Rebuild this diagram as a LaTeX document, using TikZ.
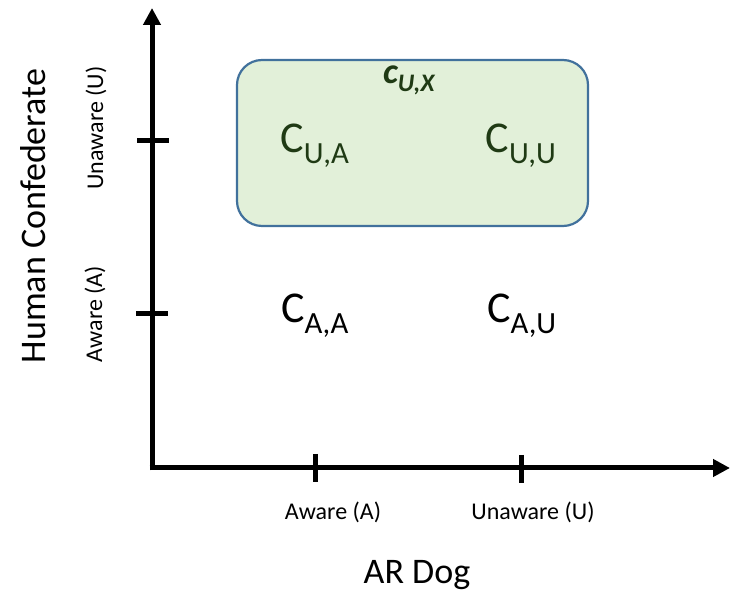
\documentclass[tikz,border=0pt]{standalone}
\usepackage{fontspec}
\setmainfont{Carlito}
\usetikzlibrary{arrows.meta}
\definecolor{boxfill}{HTML}{E2F0D9}
\definecolor{boxline}{HTML}{41719C}
\definecolor{darkgreen}{HTML}{1F3A14}
\begin{document}
\begin{tikzpicture}[x=1pt,y=-1pt,
  axis/.style={line width=5pt,-{Triangle[width=17pt,length=17pt]}},
  tick/.style={line width=5pt},
  cell/.style={font=\fontsize{44}{50}\selectfont},
  ticklabel/.style={font=\fontsize{24}{28}\selectfont},
  axlabel/.style={font=\fontsize{36}{40}\selectfont}]
\useasboundingbox (0,0) rectangle (734,593);
% box
\node[draw=boxline,line width=2.2pt,fill=boxfill,rounded corners=25pt,minimum width=351pt,minimum height=166pt,inner sep=0pt] (box) at (412.5,143) {};
% axes
\coordinate (o) at (152,468);
\coordinate (ytop) at (152,8);
\coordinate (xend) at (730,468);
\draw[axis] (152,470.5) -- (ytop);
\draw[axis] (149.5,468) -- (xend);
% ticks
\coordinate (ytA1) at (136,314); \coordinate (ytA2) at (168,314);
\coordinate (ytU1) at (137,141); \coordinate (ytU2) at (169,141);
\coordinate (xtA1) at (315,454); \coordinate (xtA2) at (315,482);
\coordinate (xtU1) at (521,455); \coordinate (xtU2) at (521,483);
\draw[tick] (ytA1) -- (ytA2);
\draw[tick] (ytU1) -- (ytU2);
\draw[tick] (xtA1) -- (xtA2);
\draw[tick] (xtU1) -- (xtU2);
% tick labels
\node[ticklabel,rotate=90] (yla) at (95,314) {Aware (A)};
\node[ticklabel,rotate=90] (ylu) at (96,128) {Unaware (U)};
\node[ticklabel] (xla) at (333,512) {Aware (A)};
\node[ticklabel] (xlu) at (533,512) {Unaware (U)};
% axis labels
\node[axlabel,rotate=90] (ylab) at (33,216) {Human Confederate};
\node[axlabel] (xlab) at (417,575) {AR Dog};
% cells
\node[cell,text=darkgreen] (cua) at (315,146) {C\textsubscript{U,A}};
\node[cell,text=darkgreen] (cuu) at (521,146) {C\textsubscript{U,U}};
\node[cell] (caa) at (315,316) {C\textsubscript{A,A}};
\node[cell] (cau) at (522,316) {C\textsubscript{A,U}};
\node[font=\fontsize{36}{40}\selectfont\bfseries\itshape,text=darkgreen] (cux) at (409,80) {c\textsubscript{U,X}};
\end{tikzpicture}
\end{document}
